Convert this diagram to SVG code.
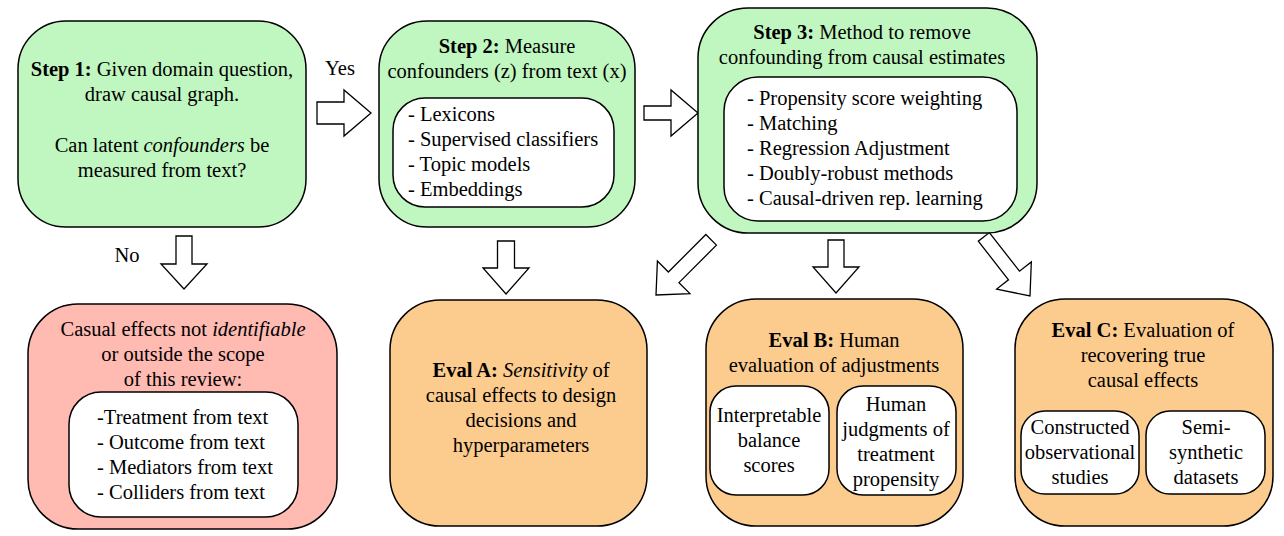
<svg xmlns="http://www.w3.org/2000/svg" width="1284" height="536" viewBox="0 0 1284 536" font-family="'Liberation Serif', Tinos, 'Times New Roman', Times, 'DejaVu Serif', serif">
<style>
text{font-family:'Liberation Serif',Tinos,'Times New Roman',Times,'DejaVu Serif',serif;font-size:20.5px;fill:#000}
.c{text-anchor:middle}
.b{font-weight:bold}
.i{font-style:italic}
.box{stroke:#000;stroke-width:1.5}
.g{fill:#c0f7c0}
.o{fill:#fccb8e}
.r{fill:#ffbab2}
.w{fill:#fff;stroke:#000;stroke-width:1.5}
.arr{fill:#fff;stroke:#000;stroke-width:1.3;stroke-linejoin:miter}
</style>
<rect width="1284" height="536" fill="#fff"/>
<g id="connectors">
<polygon class="arr" points="-54,-11 -27,-11 -27,-23 0,0 -27,23 -27,11 -54,11" transform="translate(371,113)"/>
<polygon class="arr" points="-54,-7 -27,-7 -27,-23 0,0 -27,23 -27,7 -54,7" transform="translate(698,113)"/>
<polygon class="arr" points="-53,-8 -25,-8 -25,-23 0,0 -25,23 -25,8 -53,8" transform="translate(184,289) rotate(90)"/>
<polygon class="arr" points="-53,-8.5 -26,-8.5 -26,-23 0,0 -26,23 -26,8.5 -53,8.5" transform="translate(506,294) rotate(90)"/>
<polygon class="arr" points="-53,-8 -26,-8 -26,-23 0,0 -26,23 -26,8 -53,8" transform="translate(836,293) rotate(90)"/>
<polygon class="arr" points="-78,-7.5 -25,-7.5 -25,-23 0,0 -25,23 -25,7.5 -78,7.5" transform="translate(656,295) rotate(135)"/>
<polygon class="arr" points="-75,-7 -26,-7 -26,-22 0,0 -26,22 -26,7 -75,7" transform="translate(1030,296) rotate(52)"/>
<text x="340" y="75" class="c">Yes</text>
<text x="127" y="262" class="c">No</text>
</g>
<g id="step1">
<rect class="box g" x="18" y="21" width="288" height="206" rx="48"/>
<text x="162" y="76" class="c"><tspan class="b">Step 1:</tspan> Given domain question,</text>
<text x="162" y="101" class="c">draw causal graph.</text>
<text x="162" y="152" class="c">Can latent <tspan class="i">confounders</tspan> be</text>
<text x="162" y="177" class="c">measured from text?</text>
</g>
<g id="step2">
<rect class="box g" x="379" y="21" width="256" height="206" rx="48"/>
<text x="507" y="53" class="c"><tspan class="b">Step 2:</tspan> Measure</text>
<text x="507" y="78" class="c">confounders (z) from text (x)</text>
<rect class="w" x="393" y="98" width="221" height="109" rx="32"/>
<text x="408" y="121">- Lexicons</text>
<text x="408" y="146">- Supervised classifiers</text>
<text x="408" y="171">- Topic models</text>
<text x="408" y="196">- Embeddings</text>
</g>
<g id="step3">
<rect class="box g" x="698" y="8" width="339" height="225" rx="50"/>
<text x="862" y="39" class="c"><tspan class="b">Step 3:</tspan> Method to remove</text>
<text x="862" y="64" class="c">confounding from causal estimates</text>
<rect class="w" x="724" y="77" width="293" height="144" rx="34"/>
<text x="747" y="105">- Propensity score weighting</text>
<text x="747" y="130">- Matching</text>
<text x="747" y="155">- Regression Adjustment</text>
<text x="747" y="180">- Doubly-robust methods</text>
<text x="747" y="205">- Causal-driven rep. learning</text>
</g>
<g id="not-identifiable">
<rect class="box r" x="28" y="304" width="309" height="225" rx="50"/>
<text x="183" y="336" class="c">Casual effects not <tspan class="i">identifiable</tspan></text>
<text x="183" y="361" class="c">or outside the scope</text>
<text x="183" y="386" class="c">of this review:</text>
<rect class="w" x="69" y="392" width="229" height="125" rx="32"/>
<text x="97" y="424">-Treatment from text</text>
<text x="97" y="449">- Outcome from text</text>
<text x="97" y="474">- Mediators from text</text>
<text x="97" y="499">- Colliders from text</text>
</g>
<g id="evalA">
<rect class="box o" x="390" y="300" width="257" height="226" rx="50"/>
<text x="521" y="377" class="c"><tspan class="b">Eval A:</tspan> <tspan class="i">Sensitivity</tspan> of</text>
<text x="521" y="402" class="c">causal effects to design</text>
<text x="521" y="427" class="c">decisions and</text>
<text x="521" y="452" class="c">hyperparameters</text>
</g>
<g id="evalB">
<rect class="box o" x="706" y="299" width="257" height="227" rx="50"/>
<text x="834" y="347" class="c"><tspan class="b">Eval B:</tspan> Human</text>
<text x="834" y="372" class="c">evaluation of adjustments</text>
<rect class="w" x="710" y="386" width="119" height="109" rx="26"/>
<text x="769" y="422" class="c">Interpretable</text>
<text x="769" y="447" class="c">balance</text>
<text x="769" y="472" class="c">scores</text>
<rect class="w" x="837" y="386" width="119" height="109" rx="26"/>
<text x="896" y="411" class="c">Human</text>
<text x="896" y="436" class="c">judgments of</text>
<text x="896" y="461" class="c">treatment</text>
<text x="896" y="486" class="c">propensity</text>
</g>
<g id="evalC">
<rect class="box o" x="1015" y="299" width="258" height="227" rx="50"/>
<text x="1143" y="337" class="c"><tspan class="b">Eval C:</tspan> Evaluation of</text>
<text x="1143" y="362" class="c">recovering true</text>
<text x="1143" y="387" class="c">causal effects</text>
<rect class="w" x="1021" y="411" width="118" height="83" rx="24"/>
<text x="1080" y="434" class="c">Constructed</text>
<text x="1080" y="459" class="c">observational</text>
<text x="1080" y="484" class="c">studies</text>
<rect class="w" x="1146" y="411" width="119" height="83" rx="24"/>
<text x="1206" y="434" class="c">Semi-</text>
<text x="1206" y="459" class="c">synthetic</text>
<text x="1206" y="484" class="c">datasets</text>
</g>
</svg>
